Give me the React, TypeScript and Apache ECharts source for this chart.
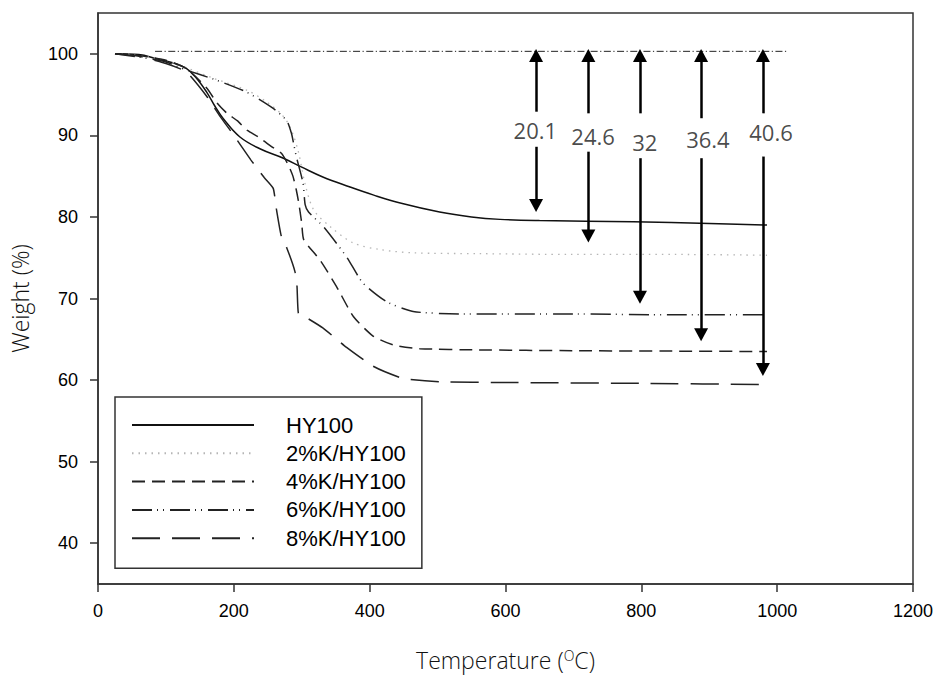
import React, { useEffect, useRef } from "react";
import * as echarts from "echarts";

const seriesNames = ["HY100", "2%K/HY100", "4%K/HY100", "6%K/HY100", "8%K/HY100"];

const hy100: [number, number][] = [
  [25, 100], [60, 99.9], [86, 99.4], [110, 98.9], [130, 98.2], [145, 97.0], [160, 95.3],
  [172, 93.6], [184, 92.1], [209, 89.8], [240, 88.3], [273, 87.2], [300, 86.1], [331, 84.9],
  [370, 83.7], [405, 82.7], [445, 81.7], [503, 80.6], [550, 80.0], [592, 79.7], [650, 79.55],
  [788, 79.4], [900, 79.2], [985, 79.0],
];
const k2: [number, number][] = [
  [25, 100], [50, 99.9], [100, 99.2], [130, 98.3], [170, 97.0], [220, 95.5], [250, 94.0],
  [270, 92.6], [283, 91.0], [295, 88.0], [305, 84.0], [318, 80.8], [342, 78.8], [376, 76.8],
  [415, 76.0], [464, 75.6], [560, 75.5], [700, 75.4], [850, 75.4], [985, 75.3],
];
const k4: [number, number][] = [
  [25, 100], [60, 99.8], [100, 99.2], [130, 98.2], [160, 95.8], [175, 94.0], [190, 92.7],
  [205, 91.8], [220, 90.6], [236, 89.8], [256, 88.6], [270, 87.8], [280, 86.4], [287, 85.0],
  [292, 83.3], [296, 81.5], [300, 79.2], [303, 77.2], [327, 74.7], [351, 71.5], [376, 67.8],
  [405, 65.4], [435, 64.3], [474, 63.85], [560, 63.7], [700, 63.6], [850, 63.55], [985, 63.5],
];
const k6: [number, number][] = [
  [25, 100], [60, 99.6], [100, 99.0], [130, 98.0], [170, 96.9], [219, 95.3], [258, 93.3],
  [278, 91.8], [285, 90.2], [288, 89.0], [292, 87.4], [302, 84.1], [305, 81.5], [310, 80.6],
  [332, 78.8], [366, 75.1], [390, 71.9], [425, 69.6], [464, 68.4], [538, 68.1], [700, 68.1],
  [850, 68.0], [985, 68.0],
];
const k8: [number, number][] = [
  [25, 100], [60, 99.7], [100, 98.8], [130, 97.8], [160, 94.8], [180, 92.3], [200, 90.0],
  [225, 87.0], [245, 84.8], [258, 83.5], [263, 80.8], [270, 77.6], [278, 76.2], [290, 73.3],
  [293, 71.5], [295, 68.2], [302, 67.9], [331, 66.4], [366, 64.0], [405, 61.7], [449, 60.2],
  [503, 59.8], [600, 59.7], [800, 59.6], [985, 59.45],
];
const refLine: [number, number][] = [[84, 100.3], [1014, 100.3]];

const arrowTemps = [645, 722, 798, 888, 979];
const arrowTop = 100.6;
const arrowUpperEnd = [92.9, 92.7, 92.7, 92.1, 92.7];
const arrowLowerStart = [88.6, 88.0, 87.2, 87.2, 87.4];
const arrowLowerTip = [80.6, 76.85, 69.35, 64.75, 60.5];
const lossLabels = ["20.1", "24.6", "32", "36.4", "40.6"];
const labelTemps = [644, 729, 805, 898, 991];
const labelWeights = [90.6, 89.9, 89.2, 89.5, 90.4];

const yTickValues = [40, 50, 60, 70, 80, 90, 100];

const THIN = "'Open Sans', 'Noto Sans', sans-serif";
const ARIAL = "'Liberation Sans', Arial, sans-serif";

export default function App() {
  const ref = useRef<HTMLDivElement>(null);
  useEffect(() => {
    if (!ref.current) return;
    const chart = echarts.init(ref.current, undefined, { renderer: "svg" });
    const headHalf = 0.8;
    const arrowSegments: any[] = [];
    arrowTemps.forEach((t, i) => {
      arrowSegments.push([{ coord: [t, arrowUpperEnd[i]] }, { coord: [t, arrowTop - headHalf] }]);
      arrowSegments.push([{ coord: [t, arrowLowerStart[i]] }, { coord: [t, arrowLowerTip[i] + headHalf] }]);
    });
    const mkLine = (name: string, data: [number, number][], color: string, width: number, type: any, smooth: number) => ({
      name,
      type: "line",
      data,
      symbol: "none",
      showSymbol: false,
      smooth,
      lineStyle: { color, width, type },
      itemStyle: { color },
      z: 3,
    });
    chart.setOption({
      animation: false,
      backgroundColor: "#fff",
      grid: { left: 98, right: 29, top: 13, bottom: 95, show: true, borderColor: "#333", borderWidth: 1.5, backgroundColor: "transparent" },
      legend: {
        data: seriesNames,
        orient: "vertical",
        left: 115,
        top: 397,
        padding: [14, 16, 16, 16],
        borderColor: "#333",
        borderWidth: 1.5,
        backgroundColor: "#fff",
        itemWidth: 122,
        itemHeight: 14,
        itemGap: 0.3,
        selectedMode: false,
        itemStyle: { opacity: 0, color: "transparent", borderColor: "transparent", borderWidth: 0 },
        textStyle: { fontFamily: ARIAL, fontSize: 22, color: "#000", lineHeight: 28, padding: [0, 0, 0, 27] },
      },
      xAxis: {
        type: "value",
        min: 0,
        max: 1200,
        interval: 200,
        name: "Temperature ({sup|O}C)",
        nameLocation: "middle",
        nameGap: 64,
        nameTextStyle: {
          fontFamily: THIN,
          fontWeight: 300,
          fontSize: 23,
          color: "#111",
          rich: { sup: { fontFamily: THIN, fontWeight: 300, fontSize: 14, color: "#111", verticalAlign: "top", padding: [0, 0, 10, 0] } },
        },
        axisLine: { lineStyle: { color: "#333", width: 1.5 } },
        axisTick: { show: true, inside: false, length: 8, lineStyle: { color: "#333", width: 1.5 } },
        axisLabel: { fontFamily: ARIAL, fontSize: 18, color: "#000", margin: 18, formatter: (v: number) => String(v) },
        splitLine: { show: false },
      },
      yAxis: {
        type: "value",
        min: 35,
        max: 105,
        name: "Weight (%)",
        nameLocation: "middle",
        nameGap: 67,
        nameRotate: 90,
        nameTextStyle: { fontFamily: THIN, fontWeight: 300, fontSize: 23, color: "#111" },
        axisLine: { lineStyle: { color: "#333", width: 1.5 } },
        axisTick: { show: true, inside: false, length: 8, customValues: yTickValues, lineStyle: { color: "#333", width: 1.5 } },
        axisLabel: { fontFamily: ARIAL, fontSize: 18, color: "#000", margin: 20, customValues: yTickValues, formatter: (v: number) => String(v) },
        splitLine: { show: false },
      },
      series: [
        mkLine(seriesNames[0], hy100, "#111", 1.5, "solid", 0.4),
        mkLine(seriesNames[1], k2, "#b5b5b5", 1.3, [1.5, 5], 0.3),
        mkLine(seriesNames[2], k4, "#222", 1.5, [13, 7], 0.2),
        mkLine(seriesNames[3], k6, "#222", 1.5, [20, 5, 1, 5, 1, 6], 0.2),
        mkLine(seriesNames[4], k8, "#222", 1.5, [28, 12], 0.15),
        {
          name: "ref",
          type: "line",
          data: refLine,
          symbol: "none",
          lineStyle: { color: "#222", width: 1, type: [7, 2.5, 1.2, 2.5] },
          z: 2,
        },
        {
          name: "arrows",
          type: "line",
          data: [],
          symbol: "none",
          markLine: {
            silent: true,
            symbol: ["none", "triangle"],
            symbolSize: [14, 13],
            label: { show: false },
            lineStyle: { color: "#000", width: 2.5, type: "solid" },
            itemStyle: { color: "#000" },
            data: arrowSegments,
            z: 5,
          },
        },
        {
          name: "lossLabels",
          type: "scatter",
          symbolSize: 0,
          data: labelTemps.map((t, i) => ({ value: [t, labelWeights[i]], name: lossLabels[i] })),
          label: {
            show: true,
            position: "inside",
            formatter: (p: any) => p.name,
            fontFamily: THIN,
            fontWeight: 400,
            fontSize: 22,
            color: "#1a1a1a",
          },
          z: 6,
        },
      ],
    });
    return () => chart.dispose();
  }, []);
  return <div ref={ref} style={{ position: "fixed", left: 0, top: 0, width: 942, height: 679 }} />;
}
